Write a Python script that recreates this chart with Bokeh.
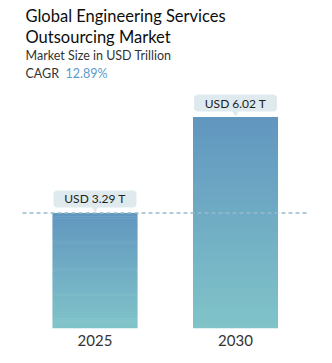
from bokeh.plotting import figure
from bokeh.models import Range1d, FixedTicker, Label, ColumnDataSource
from bokeh.core.properties import value
from bokeh.embed import file_html
from bokeh.resources import INLINE

# ---- data ----
categories = ["2025", "2030"]
market_size = [3.29, 6.02]
value_labels = ["USD 3.29 T", "USD 6.02 T"]
title_lines = ["Global Engineering Services", "Outsourcing Market"]
subtitle = "Market Size in USD Trillion"
cagr_label = "CAGR"
cagr_value = "12.89%"

FONT = "Lato"
W, H = 332, 363
FRAME_H = 328
PX_PER_UNIT = 35.12
PX_PER_X = 140.5
X0 = -0.6726

def px_to_x(px):
    return X0 + px / PX_PER_X

def py_to_y(py):
    return (FRAME_H - py) / PX_PER_UNIT

p = figure(width=W, height=H, output_backend="svg", toolbar_location=None,
           x_range=Range1d(X0, X0 + W / PX_PER_X),
           y_range=Range1d(0, FRAME_H / PX_PER_UNIT),
           min_border_left=0, min_border_right=0, min_border_top=0,
           min_border_bottom=H - FRAME_H)
p.outline_line_color = None
p.background_fill_color = "white"
p.border_fill_color = "white"
p.grid.visible = False
p.yaxis.visible = False

xs = list(range(len(categories)))
p.xaxis.ticker = FixedTicker(ticks=xs)
p.xaxis.major_label_overrides = {i: c for i, c in enumerate(categories)}
p.xaxis.axis_line_color = None
p.xaxis.major_tick_line_color = None
p.xaxis.minor_tick_line_color = None
p.xaxis.major_tick_out = 0
p.xaxis.major_label_standoff = 6
p.xaxis.major_label_text_font = FONT
p.xaxis.major_label_text_font_size = "15px"
p.xaxis.major_label_text_color = "#333333"

# ---- gradient bars ----
top_rgb = (0x61, 0x96, 0xbf)
bot_rgb = (0x80, 0xc4, 0xc9)
N = 60
bx, bb, bt, bc = [], [], [], []
for x, v in zip(xs, market_size):
    for i in range(N):
        f = (i + 0.5) / N  # 0 bottom -> 1 top
        c = tuple(int(round(b + (t - b) * f)) for t, b in zip(top_rgb, bot_rgb))
        bx.append(x)
        bb.append(v * i / N)
        bt.append(v * (i + 1) / N + (0.0 if i == N - 1 else v / N * 0.3))
        bc.append("#%02x%02x%02x" % c)
BAR_W = 85 / PX_PER_X
p.vbar(x=bx, bottom=bb, top=bt, width=BAR_W, fill_color=bc, line_color=None)

# ---- dashed reference line at first value ----
p.segment(x0=[px_to_x(22)], x1=[px_to_x(308)], y0=[market_size[0]], y1=[market_size[0]],
          line_color="#97bacb", line_width=1.5, line_dash="4 3")

# ---- value callouts ----
BOX = "#dfeaee"
gap = 5.5 / PX_PER_UNIT
bh = 17 / PX_PER_UNIT
src = ColumnDataSource(dict(
    x=xs,
    bottom=[v + gap for v in market_size],
    top=[v + gap + bh for v in market_size],
    mid=[v + gap + bh / 2 for v in market_size],
    tip=[v + gap - 0.5 / PX_PER_UNIT for v in market_size],
    text=value_labels,
))
p.vbar(x="x", bottom="bottom", top="top", width=83 / PX_PER_X, source=src,
       fill_color=BOX, line_color=None, border_radius=4)
p.scatter(x="x", y="tip", source=src, marker="inverted_triangle", size=8,
          fill_color=BOX, line_color=None)
p.text(x="x", y="mid", text="text", source=src, text_align="center",
       text_baseline="middle", text_font=value(FONT), text_font_size="12px",
       text_color="#222222")

# ---- titles ----
def add_label(txt, px, py, size, color="#222222", style="normal"):
    p.add_layout(Label(x=px_to_x(px), y=py_to_y(py), text=txt, text_font=FONT,
                       text_font_size=size, text_color=color, text_font_style=style,
                       text_baseline="middle", text_align="left"))

add_label(title_lines[0], 25, 15, "16.5px", "#0d0d0d")
add_label(title_lines[1], 25, 36, "16.5px", "#0d0d0d")
add_label(subtitle, 25, 55, "12.5px", "#333333")
add_label(cagr_label, 25, 73, "12.5px", "#333333")
add_label(cagr_value, 65, 73, "12.5px", "#5b9bcb")

open("out.html", "w").write(file_html(p, INLINE))
